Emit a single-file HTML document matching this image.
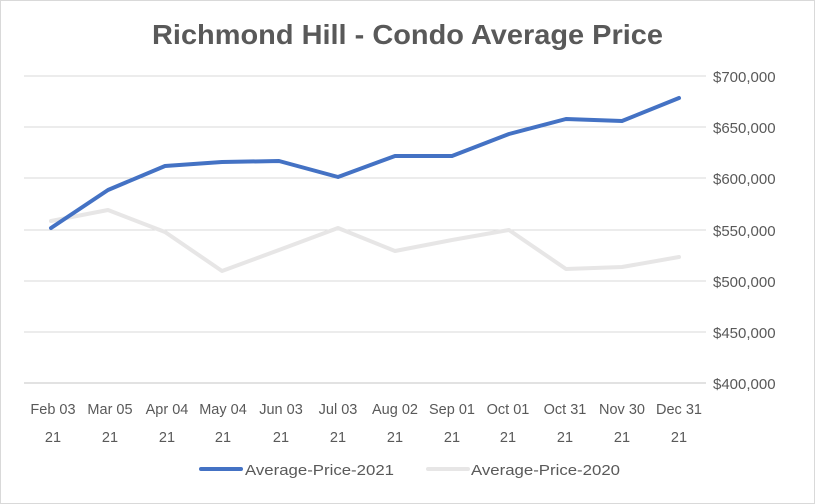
<!DOCTYPE html>
<html><head><meta charset="utf-8"><style>
html,body{margin:0;padding:0;background:#fff;}
svg{display:block;font-family:"Liberation Sans",sans-serif;}
</style></head><body>
<svg width="815" height="504" viewBox="0 0 815 504">
<rect x="0.5" y="0.5" width="814" height="503" fill="#fff" stroke="#d9d9d9"/>
<text x="152" y="44" font-size="28" font-weight="bold" fill="#595959" textLength="511" lengthAdjust="spacingAndGlyphs">Richmond Hill - Condo Average Price</text>
<g stroke="#d9d9d9" stroke-width="1">
<line x1="24" x2="706" y1="76" y2="76"/><line x1="24" x2="706" y1="127" y2="127"/>
<line x1="24" x2="706" y1="178" y2="178"/><line x1="24" x2="706" y1="230" y2="230"/>
<line x1="24" x2="706" y1="281" y2="281"/><line x1="24" x2="706" y1="332" y2="332"/>
<line x1="24" x2="706" y1="383" y2="383" stroke-width="1.5"/>
</g>
<g font-size="15" fill="#595959">
<text x="713" y="82">$700,000</text><text x="713" y="133">$650,000</text>
<text x="713" y="184">$600,000</text><text x="713" y="236">$550,000</text>
<text x="713" y="287">$500,000</text><text x="713" y="338">$450,000</text>
<text x="713" y="389">$400,000</text>
</g>
<g font-size="14.5" fill="#595959" text-anchor="middle">
<text x="53" y="414">Feb 03</text><text x="110" y="414">Mar 05</text><text x="167" y="414">Apr 04</text>
<text x="223" y="414">May 04</text><text x="281" y="414">Jun 03</text><text x="338" y="414">Jul 03</text>
<text x="395" y="414">Aug 02</text><text x="452" y="414">Sep 01</text><text x="508" y="414">Oct 01</text>
<text x="565" y="414">Oct 31</text><text x="622" y="414">Nov 30</text><text x="679" y="414">Dec 31</text>
<text x="53" y="442">21</text><text x="110" y="442">21</text><text x="167" y="442">21</text>
<text x="223" y="442">21</text><text x="281" y="442">21</text><text x="338" y="442">21</text>
<text x="395" y="442">21</text><text x="452" y="442">21</text><text x="508" y="442">21</text>
<text x="565" y="442">21</text><text x="622" y="442">21</text><text x="679" y="442">21</text>
</g>
<polyline fill="none" stroke="#e7e6e6" stroke-width="4" stroke-linejoin="round" stroke-linecap="round"
points="51,221 108,210 165,232 222,271 279,250 338,228 395,251 452,240 509,230 566,269 622,267 679,257"/>
<polyline fill="none" stroke="#4472c4" stroke-width="4" stroke-linejoin="round" stroke-linecap="round"
points="51,228 108,190 165,166 222,162 279,161 338,177 395,156 452,156 509,134 566,119 622,121 679,98"/>
<line x1="201" x2="241" y1="469" y2="469" stroke="#4472c4" stroke-width="4" stroke-linecap="round"/>
<text x="245" y="475" font-size="15" fill="#595959" textLength="149" lengthAdjust="spacingAndGlyphs">Average-Price-2021</text>
<line x1="428" x2="468" y1="469" y2="469" stroke="#e7e6e6" stroke-width="4" stroke-linecap="round"/>
<text x="471" y="475" font-size="15" fill="#595959" textLength="149" lengthAdjust="spacingAndGlyphs">Average-Price-2020</text>
</svg>
</body></html>
